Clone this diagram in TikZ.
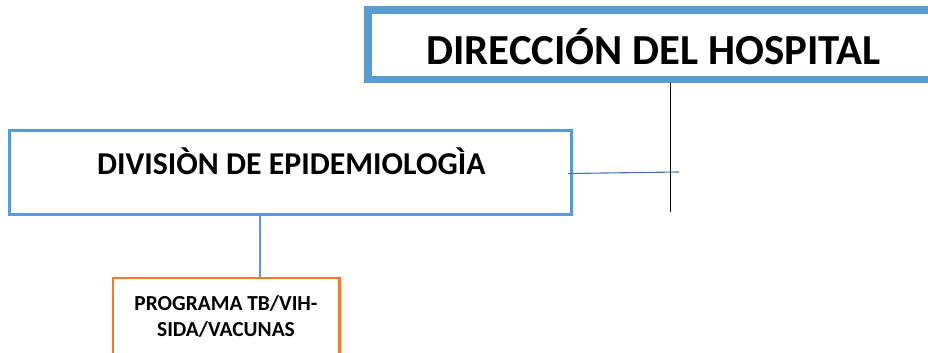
\documentclass[tikz,border=0pt]{standalone}
\usepackage{fontspec}
\setmainfont{Carlito}
\definecolor{boxblue}{RGB}{91,155,213}
\definecolor{lineblue}{RGB}{68,114,196}
\definecolor{boxorange}{RGB}{237,125,49}
\tikzset{
  px/.style={x=1pt,y=-1pt},
  bluebox/.style={draw=boxblue,rectangle,inner sep=0pt},
  orangebox/.style={draw=boxorange,rectangle,inner sep=0pt,line width=2.7pt},
  label/.style={inner sep=0pt,anchor=base,font=\bfseries},
  conn/.style={line width=1.1pt},
}
\begin{document}
\begin{tikzpicture}[px]
\useasboundingbox (0,0) rectangle (928,353);
\clip (0,0) rectangle (928,353);
% boxes
\node[bluebox,line width=7.5pt,minimum width=600pt,minimum height=69.5pt] (dir) at (668,44.75) {};
\node[label,font=\bfseries\fontsize{42.8}{48}\selectfont] (dirt) at (653.5,64) {DIRECCIÓN DEL HOSPITAL};
\node[bluebox,line width=2.7pt,minimum width=561.6pt,minimum height=83.6pt] (div) at (290.5,172.5) {};
\node[label,font=\bfseries\fontsize{31.8}{38}\selectfont] (divt) at (291.3,174.3) {DIVISIÒN DE EPIDEMIOLOGÌA};
\node[orangebox,minimum width=226.3pt,minimum height=120pt] (prog) at (226.2,338) {};
\node[label,align=center,font=\bfseries\fontsize{21.4}{26.7}\selectfont] (progt) at (226,336.7) {PROGRAMA TB/VIH-\\SIDA/VACUNAS};
% connectors
\coordinate (dend) at (670.7,211.7);
\draw[conn,black] (dir.south -| dend) -- (dend);
\coordinate (hstart) at (568,173.5);
\coordinate (hend) at (679,172);
\draw[conn,lineblue] (hstart) -- (hend);
\coordinate (vx) at (260,0);
\draw[conn,boxblue,line width=1.3pt] (div.south -| vx) -- (prog.north -| vx);
\end{tikzpicture}
\end{document}
